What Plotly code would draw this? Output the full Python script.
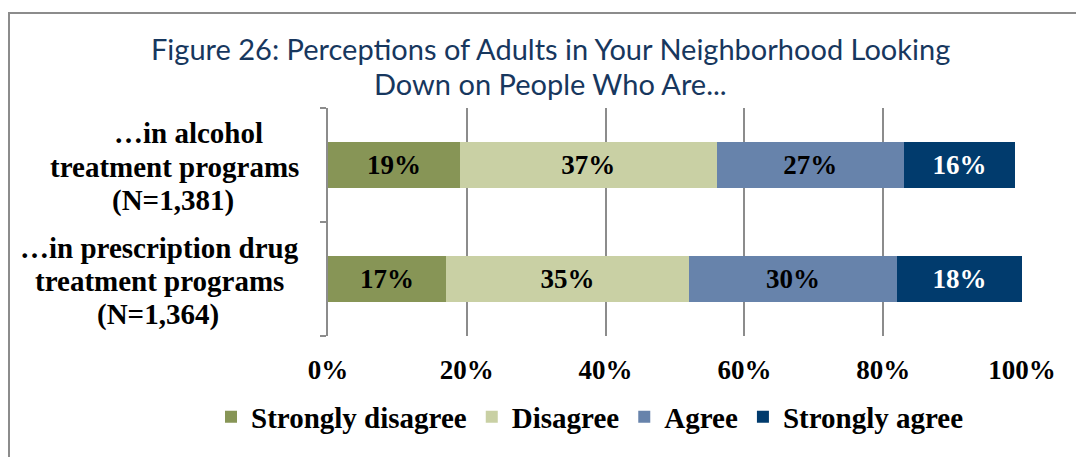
import plotly.graph_objects as go

# Survey groups (top to bottom) and response shares in percent
groups = ["alcohol", "prescription"]
group_label_lines = [
    ["…in alcohol", "treatment programs", "(N=1,381)"],
    ["…in prescription drug", "treatment programs", "(N=1,364)"],
]
responses = ["Strongly disagree", "Disagree", "Agree", "Strongly agree"]
strongly_disagree = [19, 17]
disagree = [37, 35]
agree = [27, 30]
strongly_agree = [16, 18]
x_ticks = [0, 20, 40, 60, 80, 100]
x_tick_labels = ["0%", "20%", "40%", "60%", "80%", "100%"]
title_lines = [
    "Figure 26: Perceptions of Adults in Your Neighborhood Looking",
    "Down on People Who Are...",
]

colors = ["#879556", "#C9D0A4", "#6783AB", "#013B6D"]
text_colors = ["black", "black", "black", "white"]
serif = "Liberation Serif, Times New Roman, serif"

W, H = 1076, 457
L, R, T, B = 328, 54, 108, 121
pw, ph = W - L - R, H - T - B


def px_x(px):
    return (px - L) / pw


def px_y(py):
    return (H - B - py) / ph


fig = go.Figure()
for name, vals, col, tcol in zip(
    responses,
    [strongly_disagree, disagree, agree, strongly_agree],
    colors,
    text_colors,
):
    fig.add_trace(
        go.Bar(
            name=name,
            y=groups,
            x=vals,
            orientation="h",
            marker=dict(color=col, line=dict(width=0)),
            text=[f"{v}%" for v in vals],
            textposition="inside",
            insidetextanchor="middle",
            textangle=0,
            textfont=dict(family=serif, size=27, color=tcol, weight="bold"),
            constraintext="none",
            width=0.4,
        )
    )

# Category labels: one centred annotation per line
label_centers_x = [[188, 174, 173], [159, 159, 158]]
label_centers_y = [[133, 167, 200], [248, 281, 314]]
for lines, xs, ys in zip(group_label_lines, label_centers_x, label_centers_y):
    for line, lx, ly in zip(lines, xs, ys):
        fig.add_annotation(
            x=px_x(lx), xref="paper", y=px_y(ly), yref="paper",
            text=line, showarrow=False, xanchor="center", yanchor="middle",
            font=dict(family=serif, size=29, color="black", weight="bold"),
        )

# Two-line title
for line, ty in zip(title_lines, [49, 84]):
    fig.add_annotation(
        x=px_x(550), xref="paper", y=px_y(ty), yref="paper",
        text=line, showarrow=False, xanchor="center", yanchor="middle",
        font=dict(family="Lato, sans-serif", size=29, color="#17375E"),
    )

# Outer frame of the chart
fig.add_shape(
    type="path", xref="paper", yref="paper",
    path=f"M {px_x(9)},{px_y(470)} L {px_x(9)},{px_y(13)} L {px_x(1090)},{px_y(13)}",
    line=dict(color="#8C8C8C", width=2),
)

fig.update_layout(
    width=W, height=H,
    margin=dict(l=L, r=R, t=T, b=B, autoexpand=False),
    paper_bgcolor="white", plot_bgcolor="white",
    barmode="stack",
    bargap=0.6,
    xaxis=dict(
        range=[0, 100], tickvals=x_ticks, ticktext=x_tick_labels,
        showgrid=True, gridcolor="#8C8C8C", gridwidth=1.5,
        zeroline=False, showline=False,
        ticks="outside", ticklen=10, tickcolor="rgba(0,0,0,0)",
        tickfont=dict(family=serif, size=27, color="black", weight="bold"),
        fixedrange=True,
    ),
    yaxis=dict(
        categoryorder="array", categoryarray=groups[::-1],
        showticklabels=False, showline=True, linecolor="#8C8C8C", linewidth=1.5,
        ticks="outside", tickson="boundaries", ticklen=6, tickcolor="#8C8C8C",
        tickwidth=1.5, showgrid=False,
    ),
    legend=dict(
        orientation="h", xref="paper", x=px_x(211), xanchor="left",
        yref="paper", y=px_y(417), yanchor="middle",
        font=dict(family=serif, size=29, color="black", weight="bold"),
        traceorder="normal", itemwidth=30,
    ),
    showlegend=True,
)

fig.write_html("out.html")
